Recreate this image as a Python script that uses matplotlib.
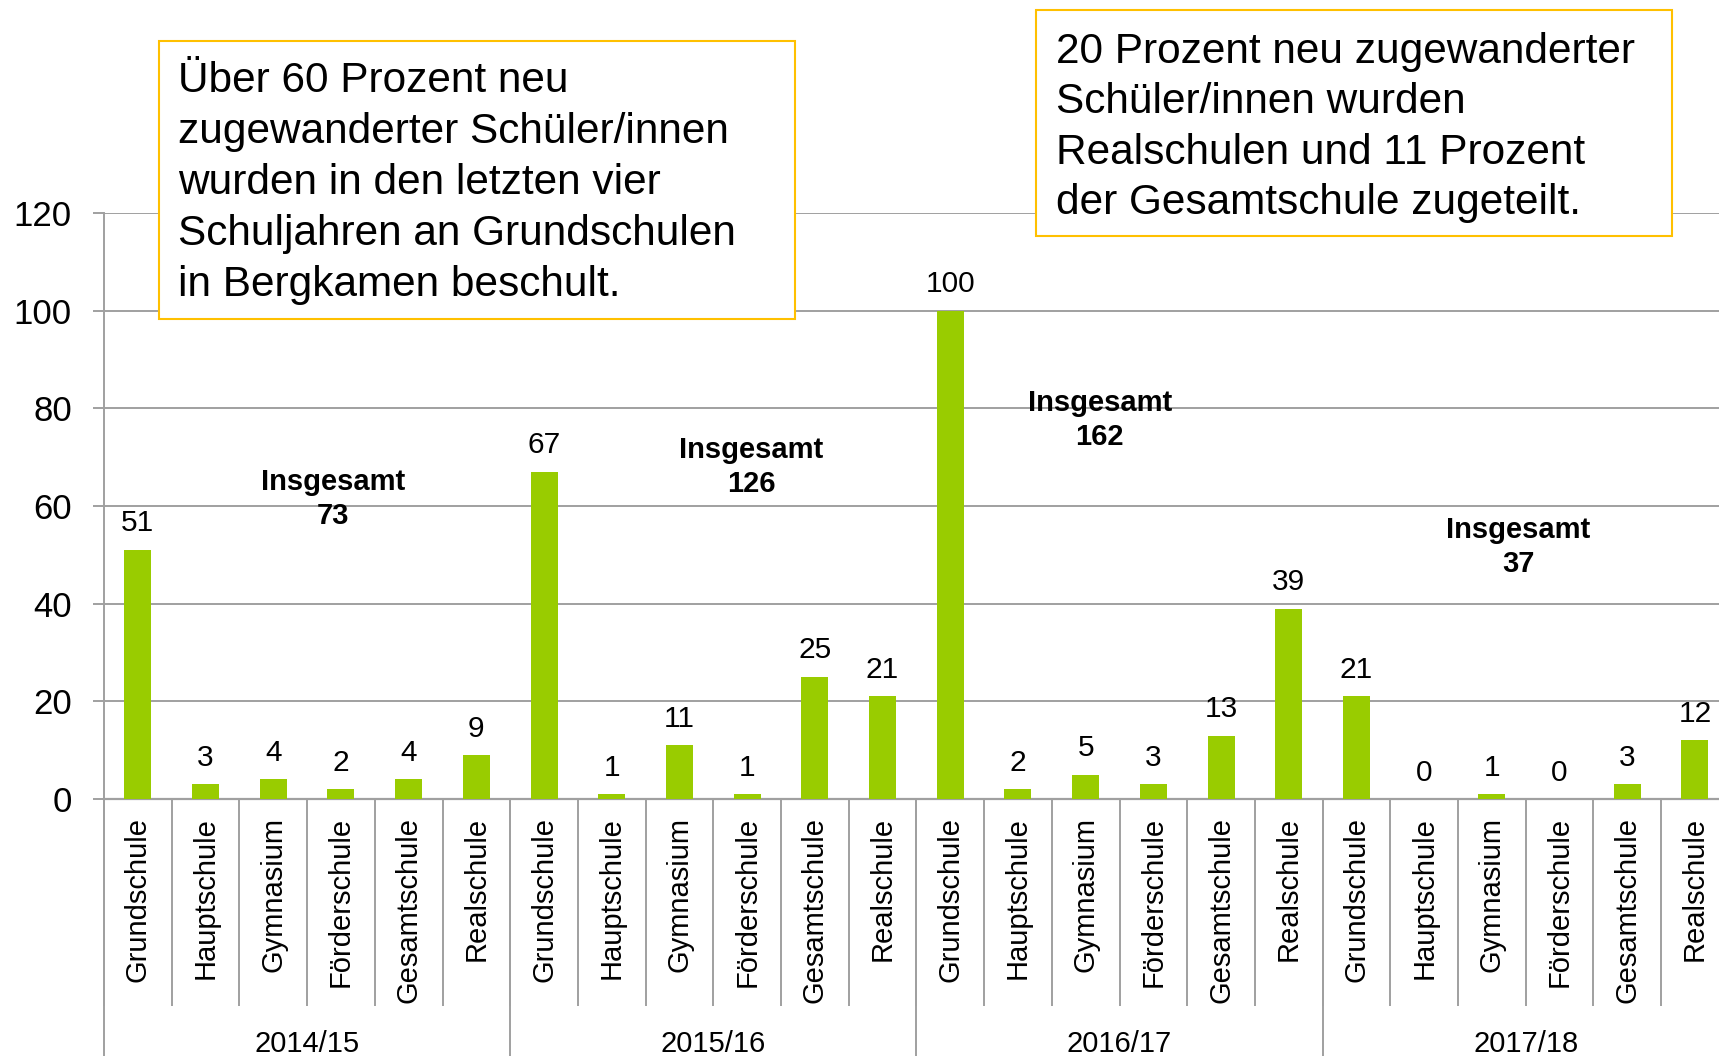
import matplotlib
matplotlib.use("Agg")
import matplotlib.pyplot as plt
from matplotlib.patches import Rectangle
import numpy as np

# ---------------- data ----------------
years = ["2014/15", "2015/16", "2016/17", "2017/18"]
schools = ["Grundschule", "Hauptschule", "Gymnasium", "Förderschule", "Gesamtschule", "Realschule"]
v_2014_15 = [51, 3, 4, 2, 4, 9]
v_2015_16 = [67, 1, 11, 1, 25, 21]
v_2016_17 = [100, 2, 5, 3, 13, 39]
v_2017_18 = [21, 0, 1, 0, 3, 12]
totals = [73, 126, 162, 37]
y_ticks = [0, 20, 40, 60, 80, 100, 120]

note_left = ["Über 60 Prozent neu",
             "zugewanderter Schüler/innen",
             "wurden in den letzten vier",
             "Schuljahren an Grundschulen",
             "in Bergkamen beschult."]
note_right = ["20 Prozent neu zugewanderter",
              "Schüler/innen wurden",
              "Realschulen und 11 Prozent",
              "der Gesamtschule zugeteilt."]

# ---------------- layout ----------------
plt.rcParams['font.family'] = ['Liberation Sans', 'DejaVu Sans']
W, H = 1719, 1056
GRID = '#A0A0A0'
GREEN = '#99CC00'
GOLD = '#FFC000'

fig = plt.figure(figsize=(W / 100, H / 100), dpi=100)
ax_left_px, ax_top_px, ax_bot_px = 104, 213, 799
cat_px = 67.7
series = [v_2014_15, v_2015_16, v_2016_17, v_2017_18]
values = [v for s in series for v in s]
n = len(values)
ax = fig.add_axes([ax_left_px / W, 1 - ax_bot_px / H, n * cat_px / W, (ax_bot_px - ax_top_px) / H])

x = np.arange(n)
ax.bar(x, values, width=0.4, color=GREEN, zorder=3)
ax.set_xlim(-0.5, n - 0.5)
ax.set_ylim(0, 120)

# value labels
for xi, v in zip(x, values):
    ax.annotate(str(v), (xi, v), xytext=(0, 13.3), textcoords='offset points',
                ha='center', va='baseline', fontsize=21.5, color='black', zorder=4)

# totals ("Insgesamt")
total_pos = [(2.88, 56.3), (9.06, 62.9), (14.21, 72.5), (20.39, 46.5)]
for (tx, ty), t in zip(total_pos, totals):
    ax.text(tx, ty, str(t), ha='center', va='baseline', fontsize=21, fontweight='bold', zorder=4)
    ax.annotate("Insgesamt", (tx, ty), xytext=(0, 24.5), textcoords='offset points',
                ha='center', va='baseline', fontsize=21, fontweight='bold', zorder=4)

# y axis
ax.set_yticks(y_ticks)
ax.tick_params(axis='y', direction='out', length=7.7, width=1.4, color=GRID,
               labelsize=25, pad=15.5, labelcolor='black')
ax.yaxis.grid(True, color=GRID, lw=1.4)
ax.set_axisbelow(True)
for s in ['top', 'right']:
    ax.spines[s].set_visible(False)
ax.spines['left'].set_color(GRID)
ax.spines['left'].set_linewidth(1.4)
ax.spines['bottom'].set_color(GRID)
ax.spines['bottom'].set_linewidth(1.6)

# category labels
ax.set_xticks(x, labels=schools * len(years), rotation=90)
ax.tick_params(axis='x', which='major', length=0, pad=13, labelsize=21)
ax.set_xticks(np.arange(-0.5, n, 1), minor=True)
ax.tick_params(axis='x', which='minor', direction='out', length=149, width=1.4, color=GRID)

# year labels
ngroup = len(schools)
sec = ax.secondary_xaxis('bottom')
sec.set_xticks(np.arange(-0.5, n + 0.5, ngroup), labels=[''] * (len(years) + 1))
sec.set_xticks(np.arange(len(years)) * ngroup + (ngroup - 1) / 2, labels=years, minor=True)
sec.tick_params(axis='x', which='major', direction='out', length=192, width=1.4, color=GRID)
sec.tick_params(axis='x', which='minor', length=0, pad=166.5, labelsize=21)
sec.spines['bottom'].set_visible(False)

# note boxes
def note(lines, x0, y0, x1, y1, tx, ty0, step):
    fig.add_artist(Rectangle((x0 / W, 1 - y1 / H), (x1 - x0) / W, (y1 - y0) / H,
                             transform=fig.transFigure, facecolor='white',
                             edgecolor=GOLD, lw=1.5, zorder=5))
    for i, line in enumerate(lines):
        fig.text(tx / W, 1 - (ty0 + i * step) / H, line, ha='left', va='baseline',
                 fontsize=30.5, color='black', zorder=6)

note(note_left, 159, 41, 795, 319, 178, 91.7, 51)
note(note_right, 1036, 10.5, 1672, 235.7, 1056, 62.5, 50.5)

fig.savefig("out.png", dpi=100)
